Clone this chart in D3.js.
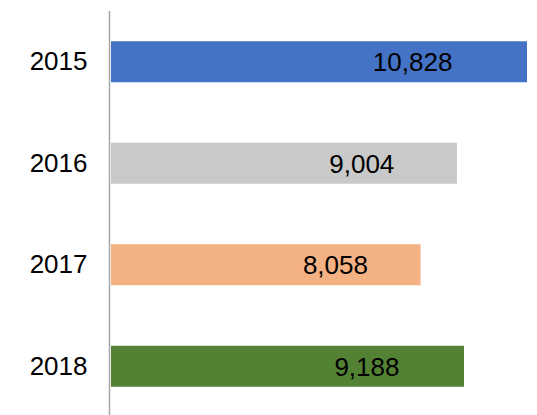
<!DOCTYPE html>
<html>
<head>
<meta charset="utf-8">
<script src="https://cdn.jsdelivr.net/npm/d3@7"></script>
<style>
  body { margin: 0; background: #fff; }
  text { font-family: "Liberation Sans", Arial, sans-serif; }
</style>
</head>
<body>
<svg></svg>
<script>
const years = ['2015', '2016', '2017', '2018'];
const values = [10828, 9004, 8058, 9188];
const colors = ['#4472C4', '#C9C9C9', '#F4B183', '#548235'];

const data = years.map((y, i) => ({ year: y, value: values[i], color: colors[i] }));

const svgWidth = 537;
const svgHeight = 415;

const svg = d3.select('svg')
    .attr('width', svgWidth)
    .attr('height', svgHeight);

const xScale = d3.scaleLinear()
    .domain([0, 10828])
    .range([111, 527]);

const yScale = d3.scaleBand()
    .domain(years)
    .range([11, 417])
    .paddingInner(0.596)
    .paddingOuter(0.298);

svg.selectAll('.bar')
    .data(data)
    .enter().append('rect')
    .attr('class', 'bar')
    .attr('x', xScale(0))
    .attr('y', d => yScale(d.year))
    .attr('width', d => xScale(d.value) - xScale(0))
    .attr('height', yScale.bandwidth())
    .attr('fill', d => d.color);

// value labels sit inside the bar, a bit past the middle
svg.selectAll('.label')
    .data(data)
    .enter().append('text')
    .attr('class', 'label')
    .attr('x', d => xScale(d.value * 0.725))
    .attr('y', d => yScale(d.year) + yScale.bandwidth() / 2)
    .attr('dy', '0.36em')
    .attr('text-anchor', 'middle')
    .attr('font-size', '26px')
    .attr('fill', '#000')
    .text(d => d3.format(',')(d.value));

// category axis
const yAxis = svg.append('g')
    .attr('transform', 'translate(109.5,0)')
    .call(d3.axisLeft(yScale).tickSize(0).tickPadding(22));

yAxis.select('.domain')
    .attr('d', 'M0,11V415')
    .attr('stroke', '#A6A6A6')
    .attr('stroke-width', 1.5);

yAxis.selectAll('text')
    .attr('font-size', '26px')
    .attr('font-family', '"Liberation Sans", Arial, sans-serif')
    .attr('fill', '#000');
</script>
</body>
</html>
